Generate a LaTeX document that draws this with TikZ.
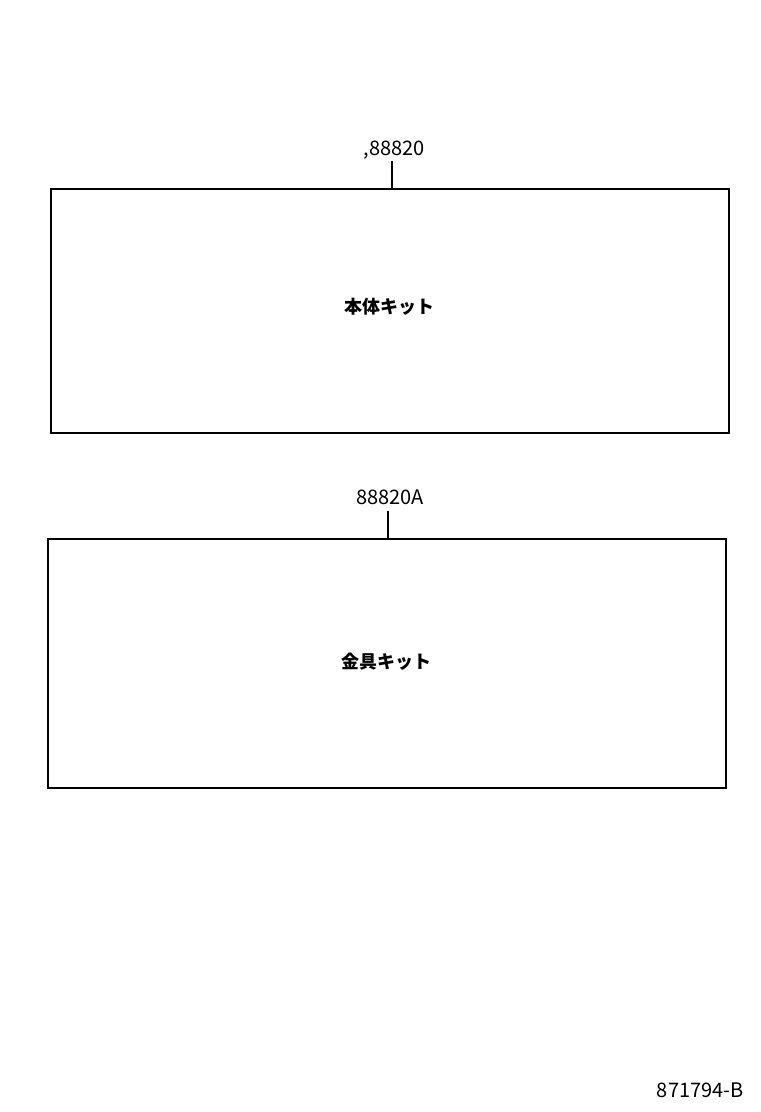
\documentclass[tikz,border=0pt]{standalone}
\usepackage{fontspec}
\setmainfont{Noto Sans CJK JP}
\usetikzlibrary{positioning}
\tikzset{kit box/.style={draw, line width=1pt, inner sep=0pt, minimum width=339pt, minimum height=122pt},
         kit name/.style={font=\fontsize{9}{11}\selectfont\bfseries},
         part num/.style={font=\fontsize{10}{12}\selectfont, inner sep=1pt}}

\begin{document}
\begin{tikzpicture}[x=0.5pt, y=-0.5pt]
\useasboundingbox (0,0) rectangle (760,1112);

% Upper kit box
\node[kit box] (body)  at (390,311) {};
\node[kit name] (bodyname) at (389,307) {本体キット};
\node[part num] (bodynum) at (394,150) {,88820};

% Lower kit box
\node[kit box, minimum height=124.5pt] (fitting) at (387,663.5) {};
\node[kit name] (fittingname) at (386,662) {金具キット};
\node[part num] (fittingnum) at (390,497) {88820A};

\path (body.north) +(2,-27) coordinate (bodytick);
\path (fitting.north) +(1,-27) coordinate (fittingtick);

% Leader lines
\draw[line width=1pt] (bodytick) -- (bodytick |- body.north);
\draw[line width=1pt] (fittingtick) -- (fittingtick |- fitting.north);

\node[part num, anchor=east] (drawno) at (746,1090) {871794-B};
\end{tikzpicture}
\end{document}
